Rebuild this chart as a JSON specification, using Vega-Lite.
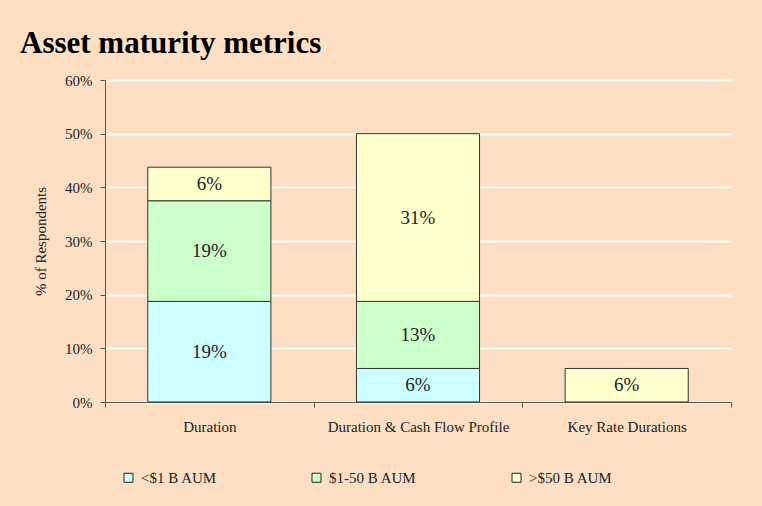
{
  "$schema": "https://vega.github.io/schema/vega-lite/v6.json",
  "width": 626,
  "height": 322,
  "autosize": "none",
  "padding": {"left": 105, "top": 80, "right": 31, "bottom": 104},
  "background": "#FDDFC3",
  "title": {
    "text": "Asset maturity metrics",
    "anchor": "start",
    "frame": "group",
    "dx": -85,
    "offset": 13,
    "font": "Liberation Serif",
    "fontSize": 31,
    "fontWeight": "bold",
    "color": "#000000"
  },
  "config": {
    "view": {"stroke": null},
    "font": "Liberation Serif"
  },
  "data": {
    "values": [
      {"cat": "Duration", "seg": "<$1 B AUM", "k": 1, "v": 0.1875},
      {"cat": "Duration", "seg": "$1-50 B AUM", "k": 2, "v": 0.1875},
      {"cat": "Duration", "seg": ">$50 B AUM", "k": 3, "v": 0.0625},
      {"cat": "Duration & Cash Flow Profile", "seg": "<$1 B AUM", "k": 1, "v": 0.0625},
      {"cat": "Duration & Cash Flow Profile", "seg": "$1-50 B AUM", "k": 2, "v": 0.125},
      {"cat": "Duration & Cash Flow Profile", "seg": ">$50 B AUM", "k": 3, "v": 0.3125},
      {"cat": "Key Rate Durations", "seg": ">$50 B AUM", "k": 3, "v": 0.0625}
    ]
  },
  "transform": [
    {"stack": "v", "groupby": ["cat"], "sort": [{"field": "k"}], "as": ["v0", "v1"]},
    {"calculate": "(datum.v0 + datum.v1) / 2", "as": "mid"}
  ],
  "encoding": {
    "x": {
      "field": "cat",
      "type": "nominal",
      "sort": ["Duration", "Duration & Cash Flow Profile", "Key Rate Durations"],
      "scale": {"paddingInner": 0, "paddingOuter": 0},
      "axis": {
        "title": null,
        "labelAngle": 0,
        "labelLimit": 400,
        "tickBand": "extent",
        "tickSize": 5,
        "tickColor": "#555555",
        "domainColor": "#555555",
        "labelPadding": 12,
        "labelFontSize": 15,
        "labelColor": "#222222",
        "labelFont": "Liberation Serif",
        "grid": false
      }
    }
  },
  "layer": [
    {
      "mark": {"type": "bar", "stroke": "#333333", "strokeWidth": 1, "width": {"band": 0.59}},
      "encoding": {
        "y": {
          "field": "v0",
          "type": "quantitative",
          "scale": {"domain": [0, 0.6]},
          "axis": {
            "title": "% of Respondents",
            "titleFont": "Liberation Serif",
            "titleFontSize": 15,
            "titleFontWeight": "normal",
            "titleColor": "#222222",
            "titlePadding": 16,
            "format": ".0%",
            "values": [0, 0.1, 0.2, 0.3, 0.4, 0.5, 0.6],
            "tickSize": 5,
            "tickColor": "#555555",
            "domainColor": "#555555",
            "labelPadding": 8,
            "labelFontSize": 15,
            "labelColor": "#222222",
            "labelFont": "Liberation Serif",
            "grid": true,
            "gridColor": "#FFFFFF",
            "gridWidth": 2
          }
        },
        "y2": {"field": "v1"},
        "color": {
          "field": "seg",
          "type": "nominal",
          "scale": {
            "domain": ["<$1 B AUM", "$1-50 B AUM", ">$50 B AUM"],
            "range": ["#CCFFFF", "#CCFFCC", "#FFFFCC"]
          },
          "legend": {
            "title": null,
            "orient": "none",
            "legendX": 16,
            "legendY": 390,
            "direction": "horizontal",
            "columns": 3,
            "columnPadding": 92,
            "symbolType": "square",
            "symbolSize": 81,
            "symbolStrokeColor": "#222222",
            "symbolStrokeWidth": 1,
            "symbolOpacity": 1,
            "labelFont": "Liberation Serif",
            "labelFontSize": 15,
            "labelColor": "#222222",
            "labelOffset": 5
          }
        }
      }
    },
    {
      "mark": {"type": "text", "font": "Liberation Serif", "fontSize": 19, "color": "#222222", "baseline": "middle"},
      "encoding": {
        "y": {"field": "mid", "type": "quantitative", "scale": {"domain": [0, 0.6]}},
        "text": {"field": "v", "type": "quantitative", "format": ".0%"}
      }
    }
  ]
}
